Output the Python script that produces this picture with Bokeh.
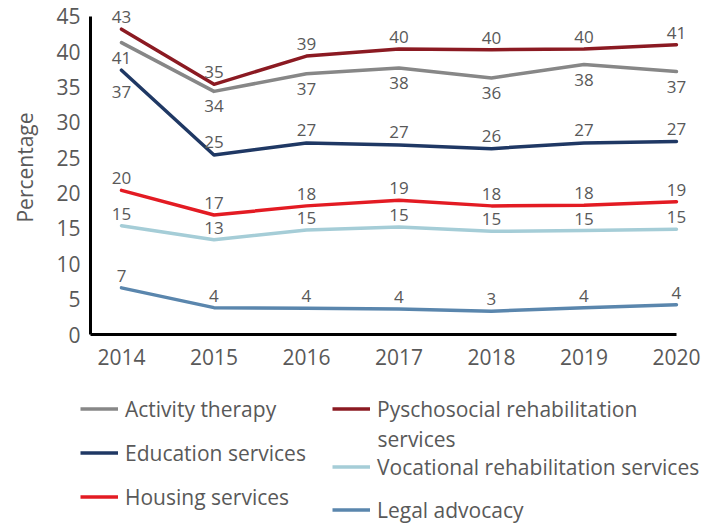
from bokeh.plotting import figure
from bokeh.layouts import column
from bokeh.core.properties import value
from bokeh.models import (Range1d, FixedTicker, ColumnDataSource, LabelSet,
                          Legend, LegendItem, Label)
from bokeh.embed import file_html
from bokeh.resources import INLINE

years = [2014, 2015, 2016, 2017, 2018, 2019, 2020]
activity_therapy = [41.3, 34.4, 36.9, 37.7, 36.3, 38.2, 37.2]
pyschosocial_rehab = [43.2, 35.4, 39.4, 40.4, 40.3, 40.4, 41.0]
education_services = [37.4, 25.4, 27.1, 26.8, 26.3, 27.1, 27.3]
vocational_rehab = [15.4, 13.4, 14.8, 15.2, 14.6, 14.7, 14.9]
housing_services = [20.4, 16.9, 18.2, 19.0, 18.2, 18.3, 18.8]
legal_advocacy = [6.6, 3.8, 3.7, 3.6, 3.3, 3.8, 4.2]
y_ticks = [0, 5, 10, 15, 20, 25, 30, 35, 40, 45]

FONT = "Open Sans"
TXT = "#595959"

# (name, values, colour, label offset in px)
series = [
    ("Activity therapy", activity_therapy, "#878787", -15),
    ("Pyschosocial rehabilitation", pyschosocial_rehab, "#8B1A22", 12),
    ("Education services", education_services, "#1F3864", 13),
    ("Vocational rehabilitation services", vocational_rehab, "#A5CDD7", 12),
    ("Housing services", housing_services, "#E31B23", 12),
    ("Legal advocacy", legal_advocacy, "#5A86AD", 12),
]
# legend placement (screen px, from legend-panel bottom-left)
legend_pos = {
    "Activity therapy": (80, 104.5),
    "Education services": (80, 60.5),
    "Housing services": (80, 16.5),
    "Pyschosocial rehabilitation": (332, 104.5),
    "Vocational rehabilitation services": (332, 46.5),
    "Legal advocacy": (332, 3.5),
}

TOP_H = 375
p = figure(width=721, height=TOP_H, min_border_left=90, min_border_top=0,
           min_border_right=0, min_border_bottom=TOP_H - 334,
           x_range=Range1d(2013.665, 2020.487), y_range=Range1d(0, 47.26),
           output_backend="svg", toolbar_location=None)
p.frame_align = False
p.outline_line_color = None
p.grid.visible = False
p.background_fill_color = "white"
p.border_fill_color = "white"

lp = figure(width=721, height=527 - TOP_H, min_border=0,
            x_range=Range1d(0, 1), y_range=Range1d(0, 1),
            x_axis_type=None, y_axis_type=None,
            output_backend="svg", toolbar_location=None)
lp.frame_align = False
lp.outline_line_color = None
lp.grid.visible = False
lp.background_fill_color = "white"
lp.border_fill_color = "white"

nan = float("nan")
for name, vals, col, dy in series:
    src = ColumnDataSource(dict(x=years, y=vals, t=[f"{v:.0f}" for v in vals]))
    p.line("x", "y", source=src, line_color=col, line_width=3.5,
           line_join="round", line_cap="round")
    offs = [dy] * len(vals)
    if name == "Education services":
        offs[0] = -22
    src.data["dy"] = offs
    p.add_layout(LabelSet(x="x", y="y", text="t", y_offset="dy", source=src,
                          text_font=value(FONT), text_font_size=value("17px"),
                          text_color=TXT, text_align="center",
                          text_baseline="middle"))
    # legend proxy (no visible data)
    lr = lp.line(x=[nan], y=[nan], line_color=col, line_width=3.5)
    lg = Legend(items=[LegendItem(label=name, renderers=[lr])],
                location=legend_pos[name], orientation="vertical",
                padding=0, margin=0, spacing=0, glyph_width=38, glyph_height=21,
                label_height=21, label_standoff=7, border_line_color=None,
                background_fill_alpha=0, label_text_font=FONT,
                label_text_font_size="21px", label_text_color=TXT)
    lp.add_layout(lg, "center")

lp.add_layout(Label(x=377, y=89, x_units="screen", y_units="screen", text="services",
                    text_font=FONT, text_font_size="21px", text_color=TXT,
                    text_baseline="middle", text_align="left"))

for ax in (p.xaxis, p.yaxis):
    ax.axis_line_width = 3
    ax.axis_line_color = "black"
    ax.major_tick_line_color = None
    ax.minor_tick_line_color = None
    ax.major_tick_out = 0
    ax.major_tick_in = 0
    ax.minor_tick_out = 0
    ax.minor_tick_in = 0
    ax.major_label_text_font = FONT
    ax.major_label_text_font_size = "21px"
    ax.major_label_text_color = TXT

p.xaxis.ticker = FixedTicker(ticks=years)
p.xaxis.bounds = (2013.665, 2020)
p.xaxis.major_label_standoff = 14
p.yaxis.ticker = FixedTicker(ticks=y_ticks)
p.yaxis.bounds = (0, 45)
p.yaxis.major_label_standoff = 10
p.yaxis.axis_label = "Percentage"
p.yaxis.axis_label_text_font = FONT
p.yaxis.axis_label_text_font_size = "21px"
p.yaxis.axis_label_text_font_style = "normal"
p.yaxis.axis_label_text_color = TXT
p.yaxis.axis_label_standoff = 14

layout = column(p, lp, spacing=0)
open("out.html", "w").write(file_html(layout, INLINE))
